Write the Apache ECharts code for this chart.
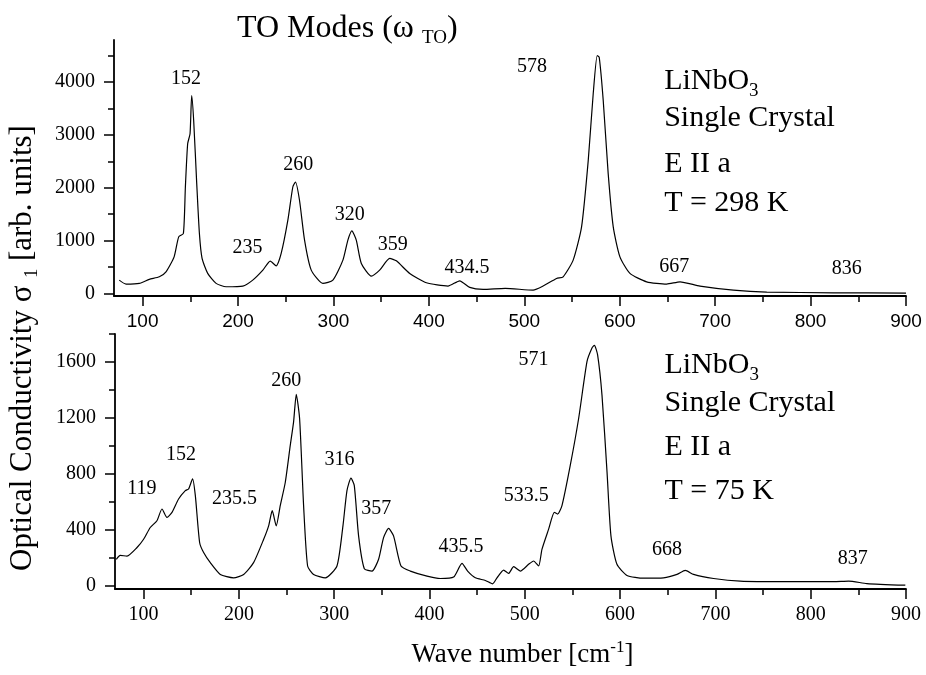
<!DOCTYPE html>
<html>
<head>
<meta charset="utf-8">
<script src="https://cdn.jsdelivr.net/npm/echarts@6/dist/echarts.min.js"></script>
<style>
  html, body { margin: 0; padding: 0; background: #fff; }
  #main { width: 926px; height: 675px; }
</style>
</head>
<body>
<div id="main"></div>
<script>
// top panel, T = 298 K
const topWave = [75.5, 82.6, 96.5, 107, 117.5, 124.5, 133, 137.8, 142.7, 144.8, 147.2, 149.7, 151.4, 153.5, 156.7, 159.5, 162.3, 168.2, 177, 187.5, 205, 215.4, 226, 233.7, 240, 245.2, 252.2, 257.4, 260.2, 264.4, 269.7, 276.7, 288.9, 299.4, 309.9, 315.1, 319.3, 323.9, 329.2, 339.7, 348.4, 358.9, 365.9, 379.9, 397.4, 420, 432.3, 442.8, 456.8, 480, 509.2, 519.7, 533.8, 540.7, 551.2, 560, 567, 572.2, 576.4, 578.5, 582.7, 587.9, 593.2, 600.2, 610.7, 628.2, 649.2, 663.2, 684.1, 719.1, 754.1, 824, 900];
const topSigma = [251, 176, 189, 265, 314, 408, 692, 1070, 1134, 2015, 2835, 3025, 3749, 3276, 2079, 1134, 662, 378, 189, 125, 138, 251, 440, 611, 522, 756, 1386, 2015, 2110, 1764, 1008, 440, 189, 251, 629, 1008, 1183, 1008, 567, 327, 440, 662, 616, 378, 200, 138, 238, 113, 76, 95, 62, 138, 283, 314, 629, 1259, 2520, 3781, 4505, 4473, 3654, 2268, 1259, 692, 378, 219, 176, 219, 138, 62, 25, 11, 5];

// bottom panel, T = 75 K
const lowWave = [71.4, 75.5, 82.6, 93.1, 100, 107, 114, 119.3, 124.5, 129.8, 136.7, 143.8, 147.2, 151.4, 154.3, 158.8, 163, 170, 180.5, 194.4, 205, 215.4, 226, 231.2, 235, 239.2, 243.4, 248.7, 253.9, 257.4, 260.2, 263.7, 267.9, 272.1, 278.4, 290.7, 302.9, 309.2, 313.4, 317.6, 321.1, 325.6, 331.6, 339.7, 346.6, 351.8, 357.1, 362.3, 370.1, 379.9, 397.4, 411.3, 425.3, 434.1, 440, 448.1, 458.6, 466.2, 470.8, 477.8, 483, 488.3, 495.3, 504, 509.2, 514.5, 518, 525, 531, 534.4, 539, 547.7, 556.5, 565.3, 570.5, 573, 576.4, 581, 586.3, 590.4, 596.7, 607.2, 624.7, 645.6, 659.7, 668.4, 677.1, 698.1, 726.1, 771.6, 824, 839.8, 859, 899.3];
const lowSigma = [192, 220, 215, 276, 335, 419, 467, 551, 491, 527, 622, 682, 694, 766, 646, 312, 240, 168, 84, 60, 84, 168, 335, 431, 539, 431, 575, 742, 1005, 1173, 1369, 1197, 575, 144, 84, 60, 144, 431, 682, 771, 718, 359, 125, 108, 192, 347, 412, 359, 144, 108, 72, 55, 65, 163, 108, 60, 41, 17, 60, 115, 91, 139, 108, 156, 180, 144, 263, 407, 527, 515, 575, 862, 1197, 1604, 1700, 1719, 1651, 1364, 814, 359, 156, 77, 57, 60, 84, 113, 84, 55, 36, 32, 32, 36, 19, 7];

// axis ticks
const waveLabels = [100, 200, 300, 400, 500, 600, 700, 800, 900];
const waveMinor = [150, 250, 350, 450, 550, 650, 750, 850];
const topLabels = [0, 1000, 2000, 3000, 4000];
const topMinor = [500, 1500, 2500, 3500, 4500];
const lowLabels = [0, 400, 800, 1200, 1600];
const lowMinor = [200, 600, 1000, 1400, 1800];

// peak annotations: text and anchor (wave number, sigma)
const topPeakText = ['152', '235', '260', '320', '359', '434.5', '578', '667', '836'];
const topPeakWave = [145.5, 210, 263, 317, 362, 440, 508, 657, 838];
const topPeakSigma = [4064, 862, 2439, 1480, 913, 484, 4302, 503, 473];
const lowPeakText = ['119', '152', '235.5', '260', '316', '357', '435.5', '533.5', '571', '668', '837'];
const lowPeakWave = [98.3, 139.2, 195.5, 249.7, 305.7, 344.2, 433, 501.6, 509.2, 649.2, 844];
const lowPeakSigma = [699, 938, 627, 1468, 903, 551, 280, 646, 1616, 258, 197];

const topInfo = ['{a|LiNbO}{s|3}', '{a|Single Crystal}', '{a|E II a}', '{a|T = 298 K}'];
const topInfoSigma = [4026, 3327, 2457, 1701];
const lowInfo = ['{a|LiNbO}{s|3}', '{a|Single Crystal}', '{a|E II a}', '{a|T = 75 K}'];
const lowInfoSigma = [1580, 1305, 994, 682];
const infoWave = 646;

const serif = 'Liberation Serif, Times New Roman, serif';
const subRich = {
  a: { fontFamily: serif, fontSize: 30, fontWeight: 'normal', color: '#000' },
  s: { fontFamily: serif, fontSize: 19, fontWeight: 'normal', color: '#000', padding: [20, 0, 0, 0] }
};

const gridTop = { left: 114, right: 20, top: 40, height: 256 };
const gridLow = { left: 115, right: 20, top: 334, height: 255 };

function zip(xs, ys) {
  return xs.map((x, i) => [x, ys[i]]);
}

function peakMarks(texts, xs, ys) {
  return texts.map((t, i) => ({
    coord: [xs[i], ys[i]],
    value: t,
    label: { formatter: t }
  }));
}

function infoMarks(lines, ys) {
  return lines.map((t, i) => ({
    coord: [infoWave, ys[i]],
    value: i,
    label: { formatter: t, position: 'right', distance: 0, rich: subRich }
  }));
}

function plain(v) {
  return String(v);
}

// short ticks come from a second axis put on the far side and shifted back
// onto the main axis line, ticks pointing inside = outward of the main axis
const hiddenLine = { show: true, onZero: false, lineStyle: { color: 'rgba(0,0,0,0)', width: 0 } };
const minorTickStyle = { color: '#000', width: 1.5 };

function xAxisPair(grid, g, withLabel) {
  const main = {
    type: 'value', gridIndex: grid, min: 70, max: 900, position: 'bottom',
    axisLine: { show: true, onZero: false, lineStyle: { color: '#000', width: 1.8 } },
    axisTick: { show: true, customValues: waveLabels, length: 10, lineStyle: { color: '#000', width: 1.5 } },
    axisLabel: {
      show: true, customValues: waveLabels, margin: 16, formatter: plain,
      fontSize: withLabel ? 20 : 19,
      fontFamily: withLabel ? serif : 'Liberation Sans, Arial, sans-serif',
      color: '#000'
    },
    splitLine: { show: false }
  };
  if (withLabel) {
    main.name = '{a|Wave number [cm}{p|-1}{a|]}';
    main.nameLocation = 'middle';
    main.nameGap = 50;
    main.nameTextStyle = {
      padding: [0, 0, 0, 24],
      rich: {
        a: { fontFamily: serif, fontSize: 27, color: '#000' },
        p: { fontFamily: serif, fontSize: 17, color: '#000', padding: [0, 0, 14, 0] }
      }
    };
  }
  const minor = {
    type: 'value', gridIndex: grid, min: 70, max: 900, position: 'top', offset: -g.height,
    axisLine: hiddenLine,
    axisTick: { show: true, inside: true, customValues: waveMinor, length: 6, lineStyle: minorTickStyle },
    axisLabel: { show: false },
    splitLine: { show: false }
  };
  return [main, minor];
}

function yAxisPair(grid, g, min, max, labels, minorTicks) {
  return [{
    type: 'value', gridIndex: grid, min: min, max: max, position: 'left',
    axisLine: { show: true, onZero: false, lineStyle: { color: '#000', width: 1.8 } },
    axisTick: { show: true, customValues: labels, length: 10, lineStyle: { color: '#000', width: 1.5 } },
    axisLabel: { show: true, customValues: labels, margin: 19, formatter: plain, fontSize: 20, fontFamily: serif, color: '#000' },
    splitLine: { show: false }
  }, {
    type: 'value', gridIndex: grid, min: min, max: max, position: 'right',
    offset: -(926 - g.left - g.right),
    axisLine: hiddenLine,
    axisTick: { show: true, inside: true, customValues: minorTicks, length: 6, lineStyle: minorTickStyle },
    axisLabel: { show: false },
    splitLine: { show: false }
  }];
}

const peakLabel = {
  show: true, position: 'inside', color: '#000',
  fontFamily: serif, fontSize: 20
};

const option = {
  animation: false,
  backgroundColor: '#fff',
  title: {
    text: '{a|TO Modes (ω }{s|TO}{a|)}',
    left: 232, top: 4,
    textStyle: {
      fontWeight: 'normal',
      rich: {
        a: { fontFamily: serif, fontSize: 32, fontWeight: 'normal', color: '#000' },
        s: { fontFamily: serif, fontSize: 19, fontWeight: 'normal', color: '#000', padding: [20, 0, 0, 0] }
      }
    }
  },
  grid: [gridTop, gridLow],
  xAxis: [].concat(xAxisPair(0, gridTop, false), xAxisPair(1, gridLow, true)),
  yAxis: [].concat(
    yAxisPair(0, gridTop, -50, 4800, topLabels, topMinor),
    yAxisPair(1, gridLow, -20, 1800, lowLabels, lowMinor)
  ),
  graphic: [{
    type: 'text',
    x: 23, y: 348,
    rotation: Math.PI / 2,
    style: {
      text: '{a|Optical Conductivity σ }{s|1}{a| [arb. units]}',
      align: 'center', verticalAlign: 'middle',
      rich: {
        a: { fontFamily: serif, fontSize: 31, fill: '#000', color: '#000' },
        s: { fontFamily: serif, fontSize: 18, fill: '#000', color: '#000', padding: [18, 0, 0, 0] }
      }
    }
  }],
  series: [
    {
      name: '298 K',
      type: 'line',
      xAxisIndex: 0, yAxisIndex: 0,
      data: zip(topWave, topSigma),
      showSymbol: false,
      smooth: 0.2,
      lineStyle: { color: '#000', width: 1.2 },
      markPoint: {
        symbol: 'circle', symbolSize: 1,
        itemStyle: { color: 'rgba(0,0,0,0)' },
        label: peakLabel,
        data: peakMarks(topPeakText, topPeakWave, topPeakSigma).concat(infoMarks(topInfo, topInfoSigma))
      }
    },
    {
      name: '75 K',
      type: 'line',
      xAxisIndex: 2, yAxisIndex: 2,
      data: zip(lowWave, lowSigma),
      showSymbol: false,
      smooth: 0.2,
      lineStyle: { color: '#000', width: 1.2 },
      markPoint: {
        symbol: 'circle', symbolSize: 1,
        itemStyle: { color: 'rgba(0,0,0,0)' },
        label: peakLabel,
        data: peakMarks(lowPeakText, lowPeakWave, lowPeakSigma).concat(infoMarks(lowInfo, lowInfoSigma))
      }
    }
  ]
};

const myChart = echarts.init(document.getElementById('main'));
myChart.setOption(option, true);
</script>
</body>
</html>
